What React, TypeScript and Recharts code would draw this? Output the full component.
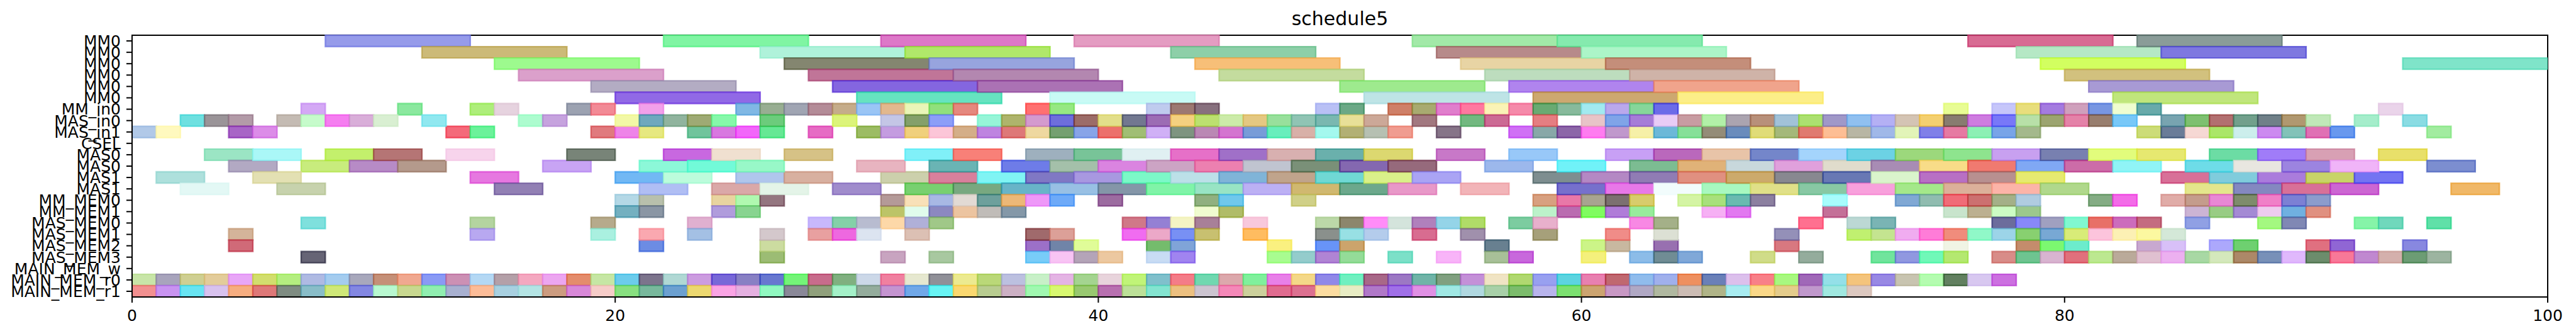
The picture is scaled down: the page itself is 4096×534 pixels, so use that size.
import React from "react";
import { Bar, BarChart, Cell, ReferenceArea, XAxis, YAxis } from "recharts";

const title = "schedule5";

const rowLabels = [
  "MM0", "MM0", "MM0", "MM0", "MM0", "MM0", "MM_in0", "MAS_in0", "MAS_in1", "CSEL",
  "MAS0", "MAS0", "MAS1", "MAS1", "MM_MEM0", "MM_MEM1", "MAS_MEM0", "MAS_MEM1",
  "MAS_MEM2", "MAS_MEM3", "MAIN_MEM_w", "MAIN_MEM_r0", "MAIN_MEM_r1",
];
// task length per row, in time units
const rowDurations = [6, 6, 6, 6, 6, 6, 1, 1, 1, 1, 2, 2, 2, 2, 1, 1, 1, 1, 1, 1, 1, 1, 1];
const xTicks = [0, 20, 40, 60, 80, 100];

// ---- task start times per row (colours kept in parallel arrays) ----
const mm0aStarts = [8, 22, 31, 39, 53, 59, 76, 83];
const mm0bStarts = [12, 26, 32, 43, 54, 60, 78, 84];
const mm0cStarts = [15, 27, 33, 44, 55, 61, 79, 94];
const mm0dStarts = [16, 28, 34, 45, 56, 62, 80];
const mm0eStarts = [19, 29, 35, 50, 57, 63, 81];
const mm0fStarts = [20, 30, 38, 51, 58, 64, 82];
const mmIn0Starts = [7, 11, 14, 15, 18, 19, 21, 25, 26, 27, 28, 29, 30, 31, 32, 33, 34, 37, 38, 42, 43, 44, 49, 50, 52, 53, 54, 55, 56, 57, 58, 59, 60, 61, 62, 63, 75, 77, 78, 79, 80, 81, 82, 83, 93];
const masIn0Starts = [2, 3, 4, 6, 7, 8, 9, 10, 12, 16, 17, 20, 21, 22, 23, 24, 26, 29, 31, 32, 33, 35, 36, 37, 38, 39, 40, 41, 42, 43, 44, 45, 46, 47, 48, 49, 50, 51, 53, 55, 56, 58, 60, 61, 62, 63, 64, 65, 66, 67, 68, 69, 70, 71, 72, 73, 74, 75, 76, 77, 78, 79, 80, 81, 82, 84, 85, 86, 87, 88, 89, 90, 92, 94];
const masIn1Starts = [0, 1, 4, 5, 13, 14, 19, 20, 21, 23, 24, 25, 26, 28, 30, 31, 32, 33, 34, 35, 36, 37, 38, 39, 40, 41, 42, 43, 44, 45, 46, 47, 48, 49, 50, 51, 52, 54, 57, 58, 59, 60, 61, 62, 63, 64, 65, 66, 67, 68, 69, 70, 71, 72, 73, 74, 75, 76, 77, 78, 83, 84, 85, 86, 87, 88, 89, 90, 91, 95];
const cselStarts: number[] = [];
const mas0aStarts = [3, 5, 8, 10, 13, 18, 22, 24, 27, 32, 34, 37, 39, 41, 43, 45, 47, 49, 51, 54, 57, 61, 63, 65, 67, 69, 71, 73, 75, 77, 79, 81, 83, 86, 88, 90, 93];
const mas0bStarts = [4, 7, 9, 11, 17, 21, 23, 25, 30, 33, 36, 38, 40, 42, 44, 46, 48, 50, 52, 56, 59, 62, 64, 66, 68, 70, 72, 74, 76, 78, 80, 82, 85, 87, 89, 91, 95];
const mas1aStarts = [1, 5, 14, 20, 22, 25, 27, 31, 33, 35, 37, 39, 41, 43, 45, 47, 49, 51, 53, 58, 60, 62, 64, 66, 68, 70, 72, 74, 76, 78, 84, 86, 88, 90, 92];
const mas1bStarts = [2, 6, 15, 21, 24, 26, 29, 32, 34, 36, 38, 40, 42, 44, 46, 48, 50, 52, 55, 59, 61, 63, 65, 67, 69, 71, 73, 75, 77, 79, 85, 87, 89, 91, 96];
const mmMem0Starts = [20, 21, 24, 25, 26, 31, 32, 33, 34, 35, 36, 37, 38, 40, 44, 45, 48, 58, 59, 60, 61, 62, 64, 65, 66, 67, 70, 73, 74, 75, 76, 77, 78, 81, 82, 84, 85, 86, 87, 88, 89, 90];
const mmMem1Starts = [20, 21, 24, 25, 31, 32, 33, 34, 35, 36, 44, 45, 58, 59, 60, 61, 62, 65, 66, 70, 75, 76, 77, 78, 85, 86, 87, 88, 89, 90];
const masMem0Starts = [7, 14, 19, 23, 28, 29, 30, 31, 32, 33, 41, 42, 43, 44, 46, 49, 50, 51, 52, 53, 54, 55, 57, 58, 62, 63, 69, 71, 72, 77, 78, 79, 80, 81, 82, 83, 85, 88, 89, 92, 93, 95];
const masMem1Starts = [4, 14, 19, 21, 23, 26, 28, 29, 30, 32, 37, 38, 41, 42, 43, 44, 46, 49, 50, 51, 53, 55, 58, 61, 63, 68, 71, 72, 73, 74, 75, 76, 77, 78, 79, 80, 81, 82, 83, 84];
const masMem2Starts = [4, 21, 26, 37, 38, 39, 42, 43, 47, 49, 50, 56, 60, 61, 63, 68, 75, 78, 79, 80, 83, 84, 86, 87, 90, 91, 94];
const masMem3Starts = [7, 26, 31, 33, 37, 38, 39, 40, 42, 43, 47, 48, 49, 50, 52, 54, 56, 57, 60, 62, 63, 64, 67, 69, 72, 73, 74, 75, 77, 78, 79, 80, 81, 82, 83, 84, 85, 86, 87, 88, 89, 90, 91, 92, 93, 94, 95];
const mainWStarts: number[] = [];
const mainR0Starts = [0, 1, 2, 3, 4, 5, 6, 7, 8, 9, 10, 11, 12, 13, 14, 15, 16, 17, 18, 19, 20, 21, 22, 23, 24, 25, 26, 27, 28, 29, 30, 31, 32, 33, 34, 35, 36, 37, 38, 39, 40, 41, 42, 43, 44, 45, 46, 47, 48, 49, 50, 51, 52, 53, 54, 55, 56, 57, 58, 59, 60, 61, 62, 63, 64, 65, 66, 67, 68, 69, 70, 71, 72, 73, 74, 75, 76, 77];
const mainR1Starts = [0, 1, 2, 3, 4, 5, 6, 7, 8, 9, 10, 11, 12, 13, 14, 15, 16, 17, 18, 19, 20, 21, 22, 23, 24, 25, 26, 27, 28, 29, 30, 31, 32, 33, 34, 35, 36, 37, 38, 39, 40, 41, 42, 43, 44, 45, 46, 47, 48, 49, 50, 51, 52, 53, 54, 55, 56, 57, 58, 59, 60, 61, 62, 63, 64, 65, 66, 67, 68, 69, 70, 71];

// ---- colours as they appear on white ----
const mm0aColors = ["#969BEA", "#80F5A3", "#DD78C8", "#E49CC2", "#A2E9A8", "#85EAAE", "#D86B93", "#8A9C98"];
const mm0bColors = ["#CCBA78", "#AFF2DA", "#B0E86A", "#8DCFA8", "#B78A8A", "#ACF5C8", "#B5E8C5", "#7E78E0"];
const mm0cColors = ["#9DFA8E", "#848670", "#97A4DE", "#F7BF78", "#E8D4A4", "#C48E7A", "#D2FF60", "#7FE4C9"];
const mm0dColors = ["#DBA0CB", "#C07598", "#B387B0", "#C4DC9E", "#BDDDBE", "#CFB3A8", "#D2C17E"];
const mm0eColors = ["#B3ACC3", "#8466E0", "#AB72B4", "#9EEA8E", "#B084EE", "#F0A48C", "#A89AD4"];
const mm0fColors = ["#9169E6", "#66E3C0", "#C8FAF5", "#BEE4E6", "#CDA870", "#FCEE88", "#C0E67C"];
const mmIn0Colors = ["#D4A8F5", "#8BE89F", "#AEEE7B", "#E6D3DF", "#9CA2B1", "#F28A96", "#F2A0EA", "#80B8E4", "#98AE92", "#A0A5B3", "#B48C98", "#C5AC8A", "#9AC5F5", "#E2B88E", "#EAF5B8", "#90E07C", "#E5887E", "#FF7070", "#96E882", "#BFCBEE", "#9C7872", "#88707E", "#B9C0F5", "#6BA886", "#CF8068", "#A8AA70", "#E07ECC", "#FF78A0", "#FAF3B6", "#F58AAA", "#69AA72", "#87BA9C", "#A2EAF0", "#BAA8EC", "#86D69A", "#6B6BE8", "#E8FC94", "#C6C6FA", "#E8DE7C", "#A47BE0", "#CFA0BC", "#7896E2", "#EFFDD0", "#68AAAA", "#EAD4EA"];
const masIn0Colors = ["#6EE0E0", "#9A9498", "#B39BA8", "#C4BBB3", "#C6FBCB", "#F57EF0", "#D9AED9", "#D9EFD2", "#90E8F0", "#ADFCCF", "#C6A3DE", "#F2F8A6", "#6EA8BD", "#90B49E", "#9EAA74", "#86F8AA", "#6CCC7C", "#DCF47A", "#C4C6E6", "#84A06A", "#8C9EF8", "#96F5D8", "#AEB46C", "#D49ACE", "#6E6EDC", "#9C6C68", "#E2DE8A", "#727890", "#9C6CB4", "#F4D080", "#BCE070", "#CCEBA9", "#E4C882", "#98E09C", "#90C4B4", "#7AB8B0", "#E8E098", "#CCA898", "#A27880", "#72B880", "#CC6A94", "#E57E82", "#E8C4C8", "#80A4E8", "#A67CD8", "#E8CCF6", "#C89CA2", "#B2F0A8", "#ABA4B0", "#B8907A", "#A2C2D8", "#ACE070", "#A098C8", "#90C0F0", "#B4B0F4", "#D4C4B4", "#F4D070", "#887C70", "#CE7CE0", "#7878F8", "#B8E0A8", "#9CA470", "#E482A8", "#987E6E", "#78C8F8", "#78A4B0", "#7EC070", "#B27070", "#72A08C", "#708088", "#B09870", "#C0E8B8", "#A5EDCB", "#8ADCE3"];
const masIn1Colors = ["#B1C9E8", "#FFF9BF", "#A865C6", "#DC8CE8", "#F46A7A", "#6CF29A", "#E07A7E", "#EE84E8", "#E6E880", "#70C49C", "#D878E0", "#F266FA", "#66E894", "#E66CC4", "#9CBC64", "#C49CE0", "#F0D07C", "#FCC6D8", "#D4AE88", "#BE84E0", "#DE7878", "#EED8A0", "#74A070", "#88A4E8", "#EC706C", "#A0BE74", "#D0B0F6", "#7E9480", "#BA88B4", "#D474D0", "#789CD8", "#68EEBC", "#D8B0A8", "#A4F8EE", "#B2B074", "#B6C0B2", "#F09C90", "#867488", "#D070F5", "#88A8A8", "#8C66A8", "#FF7CF0", "#C098CC", "#F6F0A8", "#6CB8D8", "#86E098", "#948C78", "#6A8CBC", "#E0DC78", "#A4B87A", "#E07A70", "#FDBE94", "#B8B6A4", "#A0B8E8", "#E2F4B8", "#8080E8", "#E67AA2", "#8CF0B4", "#78A4E8", "#A4B88C", "#CCDC78", "#6A7C98", "#F6D8D4", "#AAE668", "#CCEEEC", "#CC8AF0", "#82C2B8", "#E070B4", "#6898EE", "#A2ECA0"];
const cselColors: string[] = [];
const mas0aColors = ["#9BE5C4", "#AAF7F7", "#C3F06C", "#B57575", "#F7D4EC", "#788478", "#C868E0", "#F0E0D0", "#D6C286", "#80F0F8", "#F88078", "#9EB0BE", "#78C498", "#E0F0F2", "#E670C8", "#A070C8", "#D8B0B0", "#6AB0AC", "#DCD870", "#C878C8", "#98C8F8", "#C8A0F5", "#BA68BC", "#E8C4A8", "#7486CA", "#A4D4FC", "#6CD2E4", "#9CD87C", "#8EE48E", "#C8A0F0", "#7880B0", "#E2FC7C", "#E6E870", "#6CDCA4", "#A07CF8", "#D8A0B4", "#E8E06A"];
const mas0bColors = ["#B2A9C3", "#C8EC7D", "#B78BC6", "#B49A8C", "#C8A4F4", "#8CF8D8", "#72FAD8", "#98F8C8", "#E8B4C0", "#6AB4B4", "#6E7CE8", "#A4C0AA", "#DA84E0", "#CCA4C4", "#EC80B0", "#C0C4D0", "#7A9078", "#8468B0", "#966A7C", "#9CB8EC", "#70F2F8", "#7CBC92", "#E0B278", "#C8D8DC", "#E0A0DC", "#E0DCCC", "#A88CB4", "#F8DC88", "#F07A70", "#80A8F4", "#CC6CA8", "#90F4F6", "#6EDCE8", "#E8E6E0", "#9C84E0", "#F0B4F8", "#7C8ED0"];
const mas1aColors = ["#AEE0DC", "#E3E0B3", "#E678E0", "#72B8F4", "#BCFCDC", "#B0C6EC", "#D8B0A0", "#CCD0AC", "#D8809C", "#80F4F4", "#8078C4", "#A898E0", "#7CF8C8", "#BCE0E8", "#80B4D8", "#C0A48C", "#70D8D4", "#DAF08A", "#AAA4F4", "#7E8E90", "#B488C4", "#907CB4", "#E09080", "#CCAA6C", "#888890", "#6878B4", "#DAF4CC", "#B870C4", "#B89090", "#E6EA70", "#D87098", "#80CCDC", "#AA7CDC", "#C8D468", "#7474F2"];
const mas1bColors = ["#E3F8F5", "#C7D2AD", "#9280B4", "#B0BEF4", "#DAA8A8", "#E4F4E8", "#A08CCC", "#78D070", "#78A880", "#68B4C8", "#98C0E4", "#8496A8", "#80F4A8", "#98E4C4", "#BCB0F4", "#D0B870", "#6CA88C", "#E898C8", "#F2B4B8", "#7670CC", "#E878E8", "#F2FCFC", "#A8F8C0", "#E0E088", "#88C8A4", "#F8A0DC", "#A4E88A", "#DCB09A", "#FCB4A8", "#B0D88C", "#E4E68C", "#8488C0", "#D87098", "#CC66D2", "#F0B868"];
const mmMem0Colors = ["#B4D8E6", "#B8C0AC", "#E8D4A0", "#B0F8B0", "#947680", "#B49A98", "#F8E0B8", "#A8B8E4", "#E2DAD4", "#6EA09C", "#ECB878", "#EE98F8", "#6EAAF8", "#9C6CA0", "#90B080", "#70C8EC", "#D0D088", "#D8A080", "#E878A8", "#A8A490", "#7C7070", "#D8CC6C", "#D4F4A4", "#A8E07C", "#6ABAB0", "#8C80A0", "#A8FCFC", "#80A8D4", "#90BCB0", "#F06C78", "#CC7070", "#A4B088", "#B0CCE0", "#84AC84", "#F36CE8", "#E0ACA8", "#C49C8C", "#E888D4", "#7E8C6C", "#F080C8", "#7C80D4", "#8C9CCC"];
const mmMem1Colors = ["#74B0C0", "#8A96A4", "#B09CDC", "#88D490", "#BCC468", "#E0FCEC", "#8C88C0", "#ECC4A0", "#C0BCB8", "#8498A8", "#F0FCD0", "#B0BC68", "#BCF2CA", "#BA6CB0", "#80FC60", "#B07CD8", "#98EC9C", "#F6B0F4", "#E278F0", "#C47098", "#C8E4CC", "#BCB090", "#CCFCC4", "#9CC88C", "#CCB4D4", "#98CC84", "#A48AD4", "#EECCEE", "#70B0E0", "#E09080"];
const masMem0Colors = ["#7FE0DD", "#B4D4A0", "#B6AA8C", "#E0B0D0", "#C8B8FC", "#84D0A8", "#B8BCD0", "#FDD8A8", "#B0B0D8", "#A0C888", "#D07888", "#9480D4", "#F4F4C4", "#A88098", "#F8C8DC", "#BCD8A8", "#8C866C", "#FF8CF8", "#D4E4DC", "#B080BC", "#94D4E8", "#B0DC68", "#7CCCA0", "#E8B0CC", "#F888E4", "#A4B088", "#FF7090", "#BCD8D4", "#7AB4B4", "#6C6C9C", "#8888F8", "#A0A0C0", "#80F8D0", "#E87068", "#CC6CBC", "#C46C80", "#90A0E4", "#A4F880", "#8088B4", "#86F4A8", "#70D8BC", "#60E0A8"];
const masMem1Colors = ["#D4B49A", "#B8A8F0", "#AAF0E0", "#FAA8B0", "#A4C0E4", "#D4C8CC", "#E8A0A0", "#EE68E0", "#DCE4F0", "#DCC0B4", "#A06A6C", "#DCA098", "#F06CF0", "#ECA8C8", "#7890F4", "#C8C070", "#FFBC60", "#8A908C", "#98E0E4", "#B4CCEC", "#D86C90", "#A090AC", "#A6A07A", "#F08C88", "#DCE0D4", "#9490B8", "#C0F070", "#C4E490", "#F0ACF0", "#FF7CD8", "#F08C7C", "#90F8C8", "#9CD4E8", "#88D070", "#78A8D4", "#D8EC78", "#FCC4DC", "#FCF0B4", "#FCF8A0", "#D4E8D8"];
const masMem2Colors = ["#D06A78", "#6C8CE4", "#CCDCA0", "#9C70C8", "#7084A8", "#E0FC98", "#74BC6C", "#80A4D8", "#FAF080", "#6894F8", "#CCA46C", "#688090", "#CCF488", "#C8B8A0", "#9870B0", "#D87880", "#F0F4E4", "#C48C6C", "#7CF870", "#6CECCC", "#C8A8D0", "#D8C0F8", "#ACA8FC", "#6ED070", "#E07080", "#9066D4", "#8888E0"];
const masMem3Colors = ["#666475", "#9CBC74", "#C8A4C0", "#A8C8A0", "#78CCF8", "#F8C4F4", "#B4A4B8", "#ECC8A0", "#C8DCF4", "#A084F0", "#A8FC90", "#94CCCC", "#B084D4", "#94DC98", "#7CE0C8", "#F8B4F8", "#A8C098", "#C868DC", "#F4F07C", "#8CBCE8", "#708C94", "#80A8D8", "#D0DC88", "#94AC9C", "#70E49C", "#9098E0", "#70F8B8", "#B4E870", "#D88C88", "#6EC490", "#D8B4D0", "#E0707C", "#BCE890", "#BAAA9A", "#E0C0D0", "#ECB0F0", "#A8D8A4", "#D4E8BC", "#AC8868", "#7890B8", "#E0B8FC", "#6C8C6C", "#F87898", "#C088D0", "#D4B0AC", "#6C9C74", "#9CB4A0"];
const mainWColors: string[] = [];
const mainR0Colors = ["#C8E5A8", "#A8A4BC", "#CFCF92", "#E3CC9A", "#E8A6F7", "#D2DE6E", "#B4EE80", "#AFBAE3", "#A4CCEF", "#A8A8BC", "#C59078", "#F0A890", "#8A9AF5", "#CC90B4", "#B4D8F4", "#B4A0A8", "#F4A8C0", "#ECA6F0", "#E48C6C", "#C6E6A4", "#6CCCEC", "#7C748C", "#B0D8D4", "#CC9CE0", "#7868D8", "#8880C4", "#6878D0", "#74F478", "#C86C8C", "#80B080", "#CCD8E8", "#F080A0", "#E6E8D0", "#909098", "#ECEA90", "#BAD878", "#BCC0E0", "#C8F0C8", "#E4B4E4", "#A4D490", "#E8D4DC", "#C0F478", "#80C0CC", "#F47C88", "#70D8B0", "#DCA8AC", "#80F09C", "#E880E8", "#F4D888", "#9088E8", "#70F0C0", "#A86888", "#9C78C4", "#70B4A8", "#80A080", "#C490D8", "#F0E4C4", "#B0D870", "#98A0F0", "#5CD4E0", "#E880B0", "#C06870", "#90BCEC", "#A0B0EC", "#EE9060", "#6A80B8", "#DCC0EC", "#F88088", "#A8F880", "#A068B8", "#94E0E8", "#F4C47C", "#9888E4", "#C8C4B0", "#B4FCB0", "#628060", "#D8C8F0", "#CC70E0"];
const mainR1Colors = ["#F29090", "#C893F0", "#68E4F2", "#D8C2EE", "#F6AD80", "#DE7878", "#7F8C82", "#89BDC8", "#CFE878", "#8387E2", "#B8F8D0", "#C8D890", "#90EEB0", "#A8B0D0", "#FCBC98", "#A8D0E0", "#B4E4E4", "#CC9C80", "#D888D8", "#F6CCC8", "#88E080", "#78B89C", "#6CA0D0", "#ECD870", "#FAA4E4", "#E4B0E0", "#90F8C0", "#8A8898", "#90A07C", "#A4F0C8", "#94AC9C", "#C494D0", "#70A8E8", "#68F4F4", "#FAD870", "#B8CC90", "#CCB0C4", "#A0F8B0", "#D8F870", "#98C870", "#B870B0", "#BCE098", "#84E4D0", "#ECC080", "#CCC4D0", "#F488B8", "#CCD09C", "#E06C90", "#DC7090", "#FCDCA0", "#E8ECC4", "#B078C8", "#A070E8", "#E090E4", "#A0E8E4", "#B0D8E0", "#A8D0A8", "#7CBC6C", "#B8B4EC", "#7CE070", "#CCA470", "#C898C4", "#B0A8C4", "#B0B8A0", "#CCBCB4", "#B0B488", "#A8ECF0", "#FAD888", "#E4CC8C", "#C098CC", "#A0E8E0", "#DCC8C0"];

const rowStarts = [
  mm0aStarts, mm0bStarts, mm0cStarts, mm0dStarts, mm0eStarts, mm0fStarts, mmIn0Starts,
  masIn0Starts, masIn1Starts, cselStarts, mas0aStarts, mas0bStarts, mas1aStarts, mas1bStarts,
  mmMem0Starts, mmMem1Starts, masMem0Starts, masMem1Starts, masMem2Starts, masMem3Starts,
  mainWStarts, mainR0Starts, mainR1Starts,
];
const rowColors = [
  mm0aColors, mm0bColors, mm0cColors, mm0dColors, mm0eColors, mm0fColors, mmIn0Colors,
  masIn0Colors, masIn1Colors, cselColors, mas0aColors, mas0bColors, mas1aColors, mas1bColors,
  mmMem0Colors, mmMem1Colors, masMem0Colors, masMem1Colors, masMem2Colors, masMem3Colors,
  mainWColors, mainR0Colors, mainR1Colors,
];

// one Bar series per "k-th task of a row"; each value is a [start, end] range
const slotCount = Math.max(...rowStarts.map((s) => s.length));
const slots = Array.from({ length: slotCount }, (_, k) => k);
const data = rowLabels.map((label, i) => {
  const row: Record<string, unknown> = { id: i, label };
  rowStarts[i].forEach((s, k) => {
    row[`t${k}`] = [s, s + rowDurations[i]];
  });
  return row;
});

// edge = the same semi-transparent colour drawn again over the face
const ALPHA = 0.7;
function edgeColor(hex: string) {
  const n = parseInt(hex.slice(1), 16);
  const ch = [n >> 16, (n >> 8) & 255, n & 255].map((c) =>
    Math.max(0, Math.round(255 - (255 - c) / ALPHA))
  );
  return `rgb(${ch.join(",")})`;
}

const W = 4096;
const H = 534;
const FONT = "DejaVu Sans, sans-serif";
const BAR = 18;

export default function App() {
  return (
    <div style={{ position: "fixed", left: 0, top: 0, width: W, height: H, background: "#fff", fontFamily: FONT }}>
      <div
        style={{
          position: "absolute", left: 210, width: 3841, top: 15, textAlign: "center",
          fontSize: 30, lineHeight: "30px", color: "#000",
        }}
      >
        {title}
      </div>
      <BarChart
        width={W}
        height={H}
        data={data}
        layout="vertical"
        margin={{ top: 56, right: 45, bottom: 0, left: 0 }}
        barSize={BAR}
        barGap={-BAR}
      >
        <XAxis
          type="number"
          domain={[0, 100]}
          ticks={xTicks}
          allowDataOverflow
          height={62}
          tickSize={9}
          tickMargin={11}
          tick={{ fontSize: 25, fill: "#000", fontFamily: FONT }}
          tickLine={{ stroke: "#000", strokeWidth: 2 }}
          axisLine={{ stroke: "#000", strokeWidth: 2 }}
        />
        <YAxis
          type="category"
          dataKey="id"
          width={210}
          interval={0}
          tickFormatter={(v: number) => rowLabels[v]}
          tickSize={9}
          tickMargin={9}
          tick={{ fontSize: 25, fill: "#000", fontFamily: FONT }}
          tickLine={{ stroke: "#000", strokeWidth: 2 }}
          axisLine={{ stroke: "#000", strokeWidth: 2 }}
        />
        {slots.map((k) => (
          <Bar key={k} dataKey={`t${k}`} isAnimationActive={false}>
            {data.map((_, i) => {
              const c = rowColors[i][k];
              return (
                <Cell
                  key={i}
                  fill={c ?? "none"}
                  stroke={c ? edgeColor(c) : "none"}
                  strokeOpacity={0.7}
                  strokeWidth={2.4}
                />
              );
            })}
          </Bar>
        ))}
        <ReferenceArea x1={0} x2={100} fill="none" fillOpacity={0} stroke="#000" strokeWidth={2} ifOverflow="visible" />
      </BarChart>
    </div>
  );
}
